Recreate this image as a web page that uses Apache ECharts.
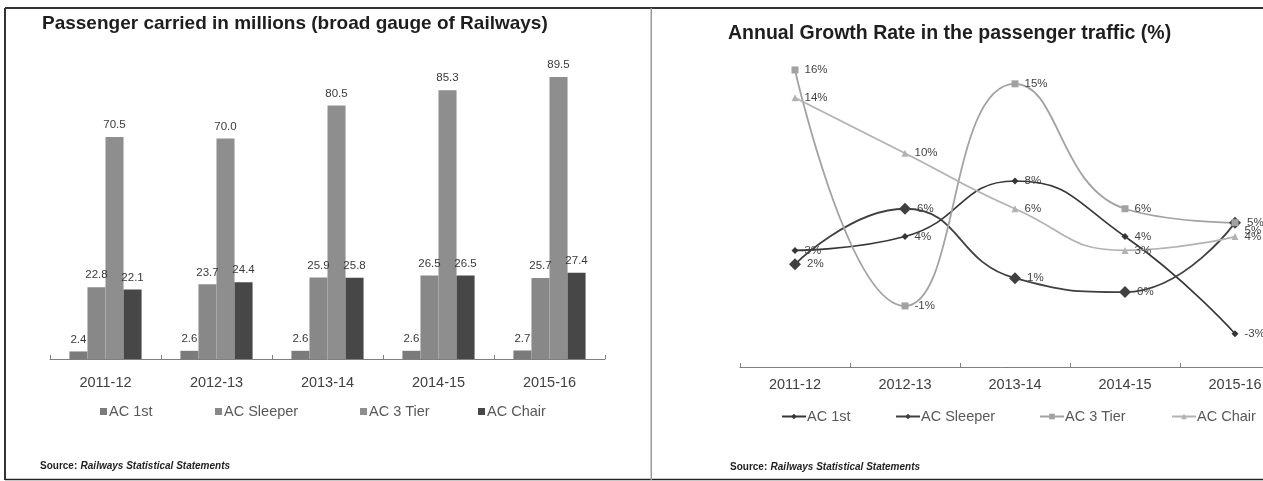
<!DOCTYPE html>
<html>
<head>
<meta charset="utf-8">
<script src="https://cdn.jsdelivr.net/npm/echarts@6/dist/echarts.min.js"></script>
<style>
  html, body { margin: 0; padding: 0; background: #fff; }
  #wrap { position: relative; width: 1263px; height: 481px; overflow: hidden; }
  #left { position: absolute; left: 0; top: 0; width: 652px; height: 481px; }
  #right { position: absolute; left: 652px; top: 0; width: 611px; height: 481px; }
</style>
</head>
<body>
<div id="wrap"><div id="left"></div><div id="right"></div></div>
<script>
// Financial years on both charts
const years = ['2011-12', '2012-13', '2013-14', '2014-15', '2015-16'];
const classNames = ['AC 1st', 'AC Sleeper', 'AC 3 Tier', 'AC Chair'];

// Passengers carried, millions
const ac1st     = [2.4, 2.6, 2.6, 2.6, 2.7];
const acSleeper = [22.8, 23.7, 25.9, 26.5, 25.7];
const ac3Tier   = [70.5, 70.0, 80.5, 85.3, 89.5];
const acChair   = [22.1, 24.4, 25.8, 26.5, 27.4];

// Annual growth rate of passenger traffic, %
const growth1st     = [3, 4, 8, 4, -3];
const growthSleeper = [2, 6, 1, 0, 5];
const growth3Tier   = [16, -1, 15, 6, 5];
const growthChair   = [14, 10, 6, 3, 4];

const FONT = "'Liberation Sans', Arial, sans-serif";
const sourceText = {
  type: 'text',
  style: {
    text: '{a|Source:} {b|Railways Statistical Statements}',
    rich: {
      a: { fontFamily: FONT, fontSize: 10, fontWeight: 'bold', fill: '#222' },
      b: { fontFamily: FONT, fontSize: 10, fontWeight: 'bold', fontStyle: 'italic', fill: '#222' }
    }
  }
};
function hLine(x1, x2, y, color, w) {
  return { type: 'line', shape: { x1: x1, y1: y, x2: x2, y2: y }, style: { stroke: color, lineWidth: w }, silent: true };
}
function vLine(x, y1, y2, color, w) {
  return { type: 'line', shape: { x1: x, y1: y1, x2: x, y2: y2 }, style: { stroke: color, lineWidth: w }, silent: true };
}

// ---------- Left: passengers carried (bars) ----------
const barColors = ['#7b7b7b', '#888888', '#8e8e8e', '#474747'];
const barData = [ac1st, acSleeper, ac3Tier, acChair];
const leftLegendX = [100, 215, 360, 478];

const left = echarts.init(document.getElementById('left'), null, { renderer: 'canvas' });
left.setOption({
  animation: false,
  textStyle: { fontFamily: FONT },
  title: {
    text: 'Passenger carried in millions (broad gauge of Railways)',
    left: 42, top: 14, padding: 0,
    textStyle: { fontFamily: FONT, fontSize: 19, fontWeight: 'bold', color: '#1e1e1e' }
  },
  legend: classNames.map((n, i) => ({
    data: [n], left: leftLegendX[i], top: 404, padding: 0,
    icon: 'rect', itemWidth: 7, itemHeight: 7, itemGap: 0,
    textStyle: { fontFamily: FONT, fontSize: 14.5, color: '#595959', padding: [0, 0, 0, -3] }
  })),
  grid: { left: 50, top: 44, width: 555, height: 315, outerBoundsMode: 'none' },
  xAxis: {
    type: 'category', data: years,
    axisLine: { lineStyle: { color: '#7f7f7f', width: 1 } },
    axisTick: { show: true, inside: true, length: 4, lineStyle: { color: '#7f7f7f' } },
    axisLabel: { fontFamily: FONT, fontSize: 14.5, color: '#404040', margin: 16 }
  },
  yAxis: { type: 'value', min: 0, max: 100, show: false },
  series: classNames.map((n, i) => ({
    name: n, type: 'bar', data: barData[i],
    barGap: '0%', barCategoryGap: '35%',
    itemStyle: { color: barColors[i] },
    label: {
      show: true, position: 'top', distance: 6,
      fontFamily: FONT, fontSize: 11.5, color: '#3a3a3a',
      formatter: p => p.value.toFixed(1)
    }
  })),
  graphic: [
    hLine(5, 652, 8, '#333', 2),
    vLine(5, 8, 480, '#333', 2),
    hLine(5, 652, 479.5, '#222', 1.5),
    vLine(651.5, 8, 480, '#9a9a9a', 2),
    Object.assign({ left: 40, top: 460 }, sourceText)
  ]
});

// ---------- Right: annual growth rate (lines) ----------
const growthData = [growth1st, growthSleeper, growth3Tier, growthChair];
const lineStyles = [
  { color: '#363636', symbol: 'diamond', size: 7, width: 1.6 },
  { color: '#404040', symbol: 'diamond', size: 12, width: 1.8 },
  { color: '#a2a2a2', symbol: 'rect', size: 7, width: 1.8 },
  { color: '#b2b2b2', symbol: 'triangle', size: 7, width: 1.8 }
];
const rightLegendX = [129, 243, 387, 519];

// value labels that sit on top of each other get nudged apart
function labelledPoints(values, seriesIdx) {
  return values.map((v, j) => {
    if (seriesIdx === 2 && j === 4) return { value: v, label: { offset: [0, 8] } };
    return v;
  });
}

const right = echarts.init(document.getElementById('right'), null, { renderer: 'canvas' });
right.setOption({
  animation: false,
  textStyle: { fontFamily: FONT },
  title: {
    text: 'Annual Growth Rate in the passenger traffic (%)',
    left: 76, top: 24, padding: 0,
    textStyle: { fontFamily: FONT, fontSize: 19.5, fontWeight: 'bold', color: '#1e1e1e' }
  },
  legend: classNames.map((n, i) => ({
    data: [n], left: rightLegendX[i], top: 409, padding: 0,
    itemWidth: 24, itemHeight: 7, itemGap: 0,
    textStyle: { fontFamily: FONT, fontSize: 14.5, color: '#595959', padding: [0, 0, 0, -4] }
  })),
  grid: { left: 88, top: 63, width: 550, height: 304, outerBoundsMode: 'none' },
  xAxis: {
    type: 'category', data: years,
    axisLine: { onZero: false, lineStyle: { color: '#7f7f7f', width: 1 } },
    axisTick: { show: true, inside: true, length: 4, lineStyle: { color: '#7f7f7f' } },
    axisLabel: { fontFamily: FONT, fontSize: 14.5, color: '#404040', margin: 10 }
  },
  yAxis: { type: 'value', min: -5.4, max: 16.5, show: false },
  series: classNames.map((n, i) => ({
    name: n, type: 'line', data: labelledPoints(growthData[i], i),
    smooth: true, clip: false,
    symbol: lineStyles[i].symbol, symbolSize: lineStyles[i].size,
    lineStyle: { color: lineStyles[i].color, width: lineStyles[i].width },
    itemStyle: { color: lineStyles[i].color },
    label: {
      show: true, position: 'right', distance: 6,
      fontFamily: FONT, fontSize: 11.5, color: '#444',
      formatter: p => p.value + '%'
    }
  })),
  graphic: [
    hLine(0, 611, 8, '#333', 2),
    hLine(0, 611, 479.5, '#222', 1.5),
    Object.assign({ left: 78, top: 461 }, sourceText)
  ]
});
</script>
</body>
</html>
